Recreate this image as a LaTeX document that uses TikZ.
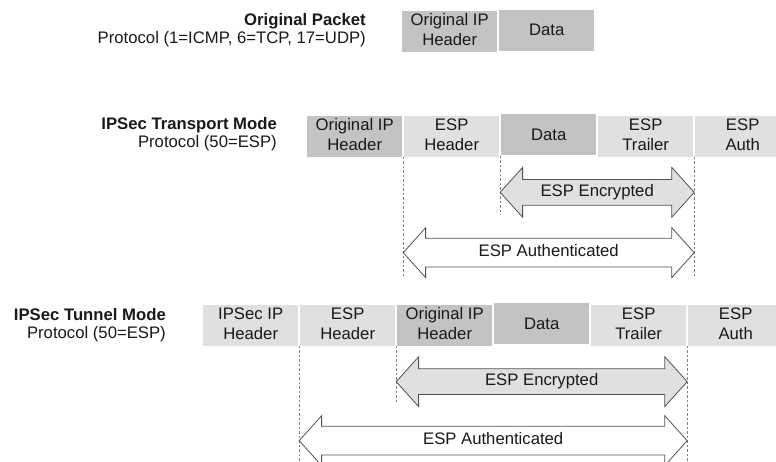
\documentclass[tikz,border=0pt]{standalone}
\usepackage{fontspec}
\setmainfont{Liberation Sans}
\usepackage{tikz}
\usepackage{xcolor}
\usetikzlibrary{matrix, calc, shapes.arrows}
\newcommand{\twolines}[2]{\begin{tabular}{@{}c@{}}#1\\#2\end{tabular}}

\begin{document}
\begin{tikzpicture}[x=1pt, y=-1pt,
  font=\fontsize{16.7}{20}\selectfont,
  pkt/.style={%
    matrix of nodes,
    inner sep=0pt,
    anchor=west,
    column sep=2pt,
    nodes={%
      minimum width=95pt,
      minimum height=41pt,
      inner sep=0pt,
      outer sep=0pt,
      text=black!90,
      fill=gray!24,
    },
  },
  dark/.style={fill=gray!47},
  guide/.style={gray, line width=0.6pt, dash pattern=on 2.5pt off 2pt},
  bigarrow/.style={%
    double arrow,
    draw=black!68,
    line width=0.8pt,
    double arrow tip angle=96,
    double arrow head extend=12pt,
    text height=11pt,
    text depth=3pt,
    inner ysep=5.5pt,
    inner xsep=0pt,
    text=black!90,
  },
  modelabel/.style={anchor=east, align=right, inner sep=0pt, text=black!90, font=\fontsize{16.7}{18}\selectfont},
]
  \useasboundingbox (0,0) rectangle (776,462);
% packet rows
  \matrix[pkt] (P) at (402,31) {
    |[dark]| \twolines{Original IP}{Header} & |[dark]| Data \\
  };
  \matrix[pkt] (T) at (307,135.5) {
    |[dark]| \twolines{Original IP}{Header} & \twolines{ESP}{Header} & |[dark]| Data & \twolines{ESP}{Trailer} & \twolines{ESP}{Auth} \\
  };
  \matrix[pkt] (N) at (203,324.5) {
    \twolines{IPSec IP}{Header} & \twolines{ESP}{Header} & |[dark]| \twolines{Original IP}{Header} & |[dark]| Data & \twolines{ESP}{Trailer} & \twolines{ESP}{Auth} \\
  };
% row labels
  \node[modelabel] (PL) at (366,30) {\textbf{Original Packet}\\Protocol (1=ICMP, 6=TCP, 17=UDP)};
  \node[modelabel] (TL) at (277,134) {\textbf{IPSec Transport Mode}\\Protocol (50=ESP)};
  \node[modelabel] (NL) at (166,325) {\textbf{IPSec Tunnel Mode}\\Protocol (50=ESP)};
% dashed guides, transport
  \coordinate (Tg1) at ($(T-1-1.south east)!.5!(T-1-2.south west)$);
  \coordinate (Tg2) at ($(T-1-2.south east)!.5!(T-1-3.south west)$);
  \coordinate (Tg4) at ($(T-1-4.south east)!.5!(T-1-5.south west)$);
  \draw[guide] (Tg1) -- ++(0,119);
  \draw[guide] (Tg2) -- ++(0,59);
  \draw[guide] (Tg4) -- ++(0,119);
% dashed guides, tunnel
  \coordinate (Ng1) at ($(N-1-1.south east)!.5!(N-1-2.south west)$);
  \coordinate (Ng2) at ($(N-1-2.south east)!.5!(N-1-3.south west)$);
  \coordinate (Ng5) at ($(N-1-5.south east)!.5!(N-1-6.south west)$);
  \draw[guide] (Ng1) -- ++(0,120);
  \draw[guide] (Ng2) -- ++(0,58);
  \draw[guide] (Ng5) -- ++(0,120);
% encrypted / authenticated spans
  \node[bigarrow, fill=gray!24, minimum height=194pt] (TE) at ($(Tg2)!.5!(Tg4)+(0,36)$) {ESP Encrypted};
  \node[bigarrow, fill=white, minimum height=291pt, double arrow head extend=10.5pt, inner ysep=7pt] (TA) at ($(Tg1)!.5!(Tg4)+(0,96)$) {ESP Authenticated};
  \node[bigarrow, fill=gray!24, minimum height=291pt] (NE) at ($(Ng2)!.5!(Ng5)+(0,36)$) {ESP Encrypted};
  \node[bigarrow, fill=white, minimum height=388pt, double arrow head extend=10.5pt, inner ysep=7pt] (NA) at ($(Ng1)!.5!(Ng5)+(0,95)$) {ESP Authenticated};
\end{tikzpicture}
\end{document}
